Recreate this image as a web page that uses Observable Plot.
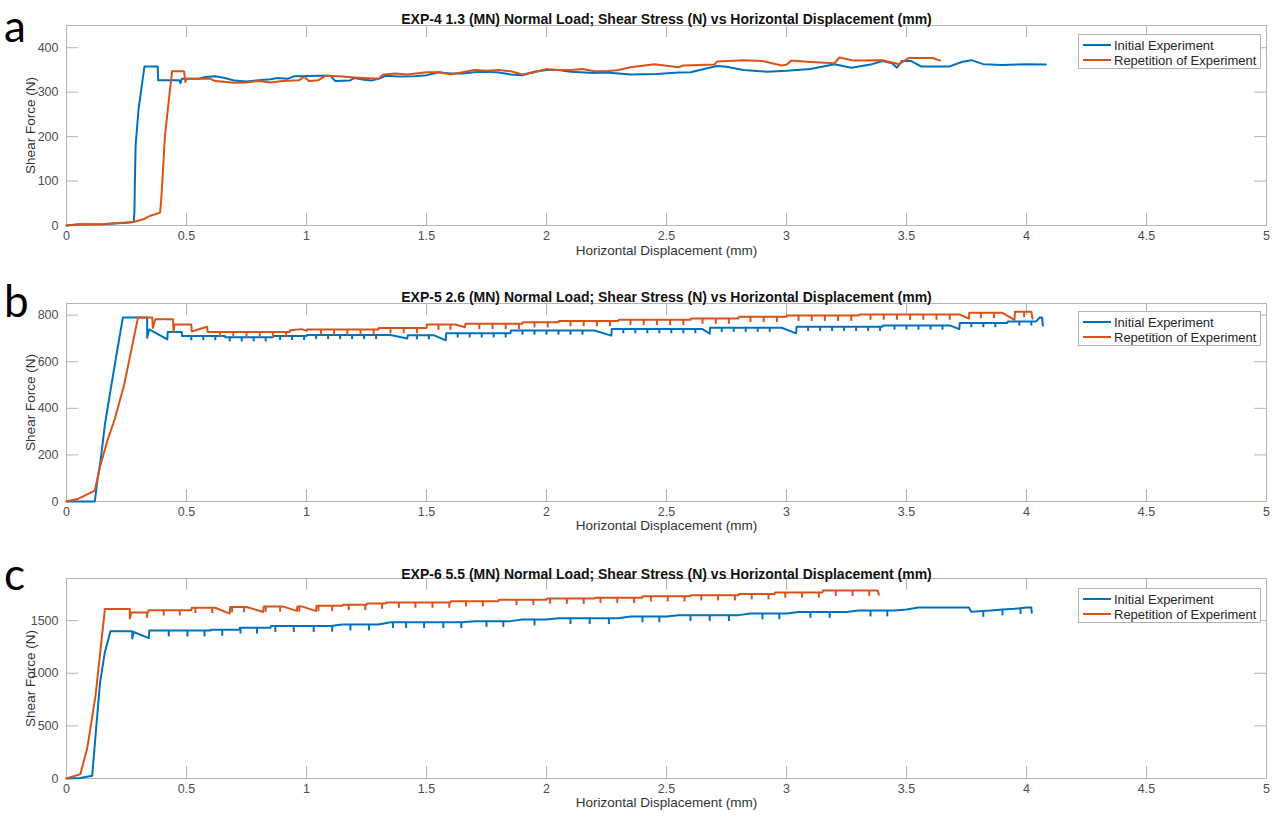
<!DOCTYPE html>
<html><head><meta charset="utf-8">
<script src="https://cdn.jsdelivr.net/npm/d3@7"></script>
<script src="https://cdn.jsdelivr.net/npm/@observablehq/plot@0.6"></script>
<style>
body{margin:0;background:#fff;}
#root{position:relative;width:1282px;height:818px;overflow:hidden;font-family:"Liberation Sans",Arial,sans-serif;}
.panel{position:absolute;left:0;}
.letter{position:absolute;left:4px;font-family:Lato,"Open Sans",sans-serif;font-size:44px;line-height:44px;color:#000;}
.legend{position:absolute;left:1078px;width:181px;height:33px;border:1px solid #b3b3b3;background:#fff;font-size:13px;color:#262626;}
.legend .row{position:absolute;left:4px;height:14px;display:flex;align-items:center;white-space:nowrap;}
.legend .sw{width:28px;height:2px;margin-right:3px;}
</style></head><body><div id="root"></div>
<script>
const seriesNames = ["Initial Experiment", "Repetition of Experiment"];
const colors = ["#0072BD", "#D95319"];
const xTicks = [0, 0.5, 1, 1.5, 2, 2.5, 3, 3.5, 4, 4.5, 5];
const xLabel = "Horizontal Displacement (mm)";
const yLabel = "Shear Force (N)";
const titles = [
  "EXP-4 1.3 (MN) Normal Load; Shear Stress (N) vs Horizontal Displacement (mm)",
  "EXP-5 2.6 (MN) Normal Load; Shear Stress (N) vs Horizontal Displacement (mm)",
  "EXP-6 5.5 (MN) Normal Load; Shear Stress (N) vs Horizontal Displacement (mm)"
];
const letters = ["a", "b", "c"];
const aYTicks = [0, 100, 200, 300, 400];
const bYTicks = [0, 200, 400, 600, 800];
const cYTicks = [0, 500, 1000, 1500];
const yMaxes = [450, 850, 1900];

// Panel a
const aBlue = [[0,0],[0.05,2],[0.15,3],[0.25,6],[0.28,8],[0.283,30],[0.285,100],[0.288,180],[0.3,260],[0.315,320],[0.325,358],[0.38,358],[0.382,327],[0.47,327],[0.475,320],[0.48,330],[0.55,330],[0.58,334],[0.62,336],[0.66,332],[0.7,326],[0.75,324],[0.8,327],[0.85,329],[0.88,332],[0.92,330],[0.95,336],[1.05,337],[1.1,337],[1.12,325],[1.18,326],[1.2,332],[1.24,328],[1.27,326],[1.3,330],[1.33,337],[1.38,335],[1.45,336],[1.5,338],[1.55,345],[1.6,342],[1.65,342],[1.7,345],[1.75,346],[1.8,344],[1.85,340],[1.9,338],[1.95,346],[2.0,350],[2.05,350],[2.1,346],[2.2,343],[2.25,344],[2.35,340],[2.46,341],[2.55,344],[2.6,345],[2.71,359],[2.75,357],[2.82,350],[2.92,346],[3.0,348],[3.1,352],[3.2,363],[3.27,355],[3.35,362],[3.4,370],[3.44,365],[3.46,355],[3.48,370],[3.52,370],[3.56,358],[3.68,358],[3.73,368],[3.77,372],[3.82,363],[3.9,361],[4.0,363],[4.08,362]];
const aOrange = [[0,0],[0.05,3],[0.15,3],[0.2,5],[0.28,8],[0.32,14],[0.35,22],[0.39,29],[0.395,60],[0.41,200],[0.43,300],[0.44,347],[0.49,347],[0.495,323],[0.5,330],[0.6,330],[0.62,325],[0.7,321],[0.75,322],[0.8,325],[0.85,322],[0.9,325],[0.97,327],[0.99,335],[1.01,325],[1.05,327],[1.08,337],[1.15,335],[1.2,333],[1.3,330],[1.32,340],[1.37,342],[1.42,340],[1.5,345],[1.55,345],[1.6,340],[1.65,345],[1.7,350],[1.75,348],[1.8,350],[1.85,347],[1.9,340],[1.95,345],[2.0,352],[2.05,350],[2.1,350],[2.15,352],[2.2,347],[2.25,347],[2.3,350],[2.35,356],[2.45,363],[2.55,356],[2.57,360],[2.7,362],[2.71,369],[2.82,372],[2.9,370],[2.98,360],[3.0,362],[3.02,371],[3.1,368],[3.2,365],[3.22,378],[3.28,371],[3.4,372],[3.47,363],[3.51,377],[3.61,377],[3.64,371]];
const aBlueTeeth = [];
const aOrangeTeeth = [];

// Panel b
const bBlue = [[0,0],[0.118,0],[0.13,100],[0.142,175],[0.16,330],[0.183,475],[0.21,640],[0.235,790],[0.336,790],[0.336,703],[0.345,739],[0.42,696],[0.422,728],[0.48,728],[0.482,710],[0.66,710],[0.662,705],[0.86,705],[0.862,711],[1.0,711],[1.002,715],[1.35,715],[1.42,700],[1.422,714],[1.53,714],[1.58,692],[1.582,722],[1.85,722],[1.852,734],[2.2,734],[2.27,712],[2.272,740],[2.65,740],[2.68,720],[2.682,746],[2.98,746],[3.04,722],[3.042,750],[3.4,750],[3.402,756],[3.68,756],[3.72,740],[3.722,766],[3.92,766],[3.922,773],[4.04,773],[4.055,790],[4.065,790],[4.068,755]];
const bBlueTeeth = [[0.52,710,690],[0.57,710,690],[0.62,710,690],[0.68,705,685],[0.73,705,685],[0.78,705,685],[0.83,705,685],[0.89,711,691],[0.94,711,691],[0.99,711,691],[1.04,715,695],[1.09,715,695],[1.14,715,695],[1.19,715,695],[1.24,715,695],[1.29,715,695],[1.46,714,694],[1.51,714,694],[1.63,722,702],[1.68,722,702],[1.73,722,702],[1.78,722,702],[1.83,722,702],[1.9,734,714],[1.95,734,714],[2.0,734,714],[2.05,734,714],[2.1,734,714],[2.15,734,714],[2.32,740,720],[2.37,740,720],[2.42,740,720],[2.47,740,720],[2.52,740,720],[2.57,740,720],[2.62,740,720],[2.73,746,726],[2.78,746,726],[2.83,746,726],[2.88,746,726],[2.93,746,726],[3.09,750,730],[3.14,750,730],[3.19,750,730],[3.24,750,730],[3.29,750,730],[3.34,750,730],[3.39,750,730],[3.45,756,736],[3.5,756,736],[3.55,756,736],[3.6,756,736],[3.65,756,736],[3.77,766,746],[3.82,766,746],[3.87,766,746],[3.97,773,753],[4.02,773,753]];
const bOrange = [[0,0],[0.05,12],[0.118,47],[0.14,150],[0.17,260],[0.2,350],[0.24,500],[0.27,650],[0.298,790],[0.357,790],[0.36,745],[0.37,782],[0.444,782],[0.446,728],[0.45,760],[0.52,760],[0.522,730],[0.586,750],[0.588,728],[0.93,728],[0.932,735],[0.98,740],[1.0,733],[1.002,738],[1.3,738],[1.302,745],[1.5,745],[1.502,760],[1.62,760],[1.66,748],[1.662,763],[1.9,763],[1.902,770],[2.05,770],[2.052,775],[2.3,775],[2.302,780],[2.6,780],[2.602,786],[2.8,786],[2.802,793],[3.0,793],[3.002,798],[3.3,798],[3.302,803],[3.72,803],[3.76,785],[3.762,810],[3.9,810],[3.95,780],[3.952,815],[4.02,815],[4.025,785]];
const bOrangeTeeth = [[0.64,728,703],[0.695,728,703],[0.75,728,703],[0.805,728,703],[0.86,728,703],[0.915,728,703],[1.06,738,713],[1.115,738,713],[1.17,738,713],[1.225,738,713],[1.28,738,713],[1.35,745,720],[1.405,745,720],[1.46,745,720],[1.55,760,735],[1.6,760,735],[1.72,763,738],[1.775,763,738],[1.83,763,738],[1.885,763,738],[1.95,770,745],[2.005,770,745],[2.1,775,750],[2.155,775,750],[2.21,775,750],[2.265,775,750],[2.35,780,755],[2.405,780,755],[2.46,780,755],[2.515,780,755],[2.57,780,755],[2.65,786,761],[2.705,786,761],[2.76,786,761],[2.85,793,768],[2.905,793,768],[2.96,793,768],[3.05,798,773],[3.105,798,773],[3.16,798,773],[3.215,798,773],[3.27,798,773],[3.35,803,778],[3.405,803,778],[3.46,803,778],[3.515,803,778],[3.57,803,778],[3.625,803,778],[3.68,803,778],[3.81,810,785],[3.865,810,785],[3.99,815,790]];

// Panel c
const cBlue = [[0,0],[0.058,5],[0.107,26],[0.128,597],[0.14,915],[0.16,1200],[0.183,1398],[0.274,1398],[0.274,1330],[0.28,1392],[0.343,1334],[0.345,1405],[0.6,1405],[0.602,1412],[0.72,1412],[0.722,1432],[0.85,1432],[0.852,1448],[1.1,1448],[1.15,1462],[1.3,1462],[1.35,1485],[1.65,1485],[1.7,1495],[1.85,1495],[1.9,1510],[2.0,1510],[2.05,1522],[2.3,1522],[2.35,1540],[2.5,1540],[2.55,1552],[2.8,1552],[2.85,1568],[3.0,1568],[3.05,1582],[3.25,1582],[3.3,1595],[3.45,1595],[3.5,1605],[3.55,1625],[3.76,1625],[3.77,1585],[3.85,1595],[3.9,1605],[3.95,1612],[4.0,1625],[4.02,1625],[4.022,1575]];
const cBlueTeeth = [[0.426,1405,1345],[0.504,1405,1345],[0.575,1405,1345],[0.649,1412,1352],[0.725,1432,1372],[0.794,1432,1372],[0.87,1448,1388],[0.947,1448,1388],[1.03,1448,1388],[1.107,1450,1390],[1.183,1462,1402],[1.26,1462,1402],[1.36,1485,1425],[1.415,1485,1425],[1.49,1485,1425],[1.57,1485,1425],[1.645,1485,1425],[1.75,1495,1435],[1.82,1495,1435],[1.95,1510,1450],[2.1,1522,1462],[2.18,1522,1462],[2.26,1522,1462],[2.4,1540,1480],[2.47,1540,1480],[2.6,1552,1492],[2.68,1552,1492],[2.76,1552,1492],[2.9,1568,1508],[2.97,1568,1508],[3.1,1582,1522],[3.18,1582,1522],[3.35,1595,1535],[3.42,1595,1535],[3.82,1591,1531],[3.9,1605,1545],[3.975,1618,1558]];
const cOrange = [[0,0],[0.058,42],[0.087,295],[0.121,788],[0.16,1610],[0.264,1610],[0.264,1519],[0.27,1576],[0.34,1576],[0.342,1598],[0.52,1598],[0.522,1622],[0.62,1622],[0.68,1567],[0.682,1630],[0.75,1630],[0.82,1582],[0.822,1635],[0.9,1635],[0.96,1592],[0.962,1635],[0.98,1635],[1.04,1590],[1.042,1640],[1.15,1640],[1.152,1650],[1.25,1650],[1.252,1662],[1.33,1662],[1.332,1672],[1.6,1672],[1.602,1685],[1.8,1685],[1.802,1698],[2.0,1698],[2.002,1710],[2.2,1710],[2.202,1718],[2.4,1718],[2.402,1732],[2.6,1732],[2.602,1742],[2.8,1742],[2.802,1752],[2.95,1752],[2.952,1768],[3.15,1768],[3.152,1785],[3.38,1785],[3.385,1745]];
const cOrangeTeeth = [[0.336,1576,1521],[0.405,1598,1543],[0.472,1598,1543],[0.537,1622,1567],[0.607,1622,1567],[0.69,1630,1575],[0.74,1630,1575],[0.83,1635,1580],[0.89,1635,1580],[0.97,1635,1580],[1.05,1640,1585],[1.107,1640,1585],[1.176,1650,1595],[1.245,1650,1595],[1.315,1662,1607],[1.385,1672,1617],[1.454,1672,1617],[1.525,1672,1617],[1.595,1672,1617],[1.665,1685,1630],[1.735,1685,1630],[1.875,1698,1643],[1.945,1698,1643],[2.015,1710,1655],[2.085,1710,1655],[2.155,1710,1655],[2.225,1718,1663],[2.295,1718,1663],[2.365,1718,1663],[2.435,1732,1677],[2.505,1732,1677],[2.575,1732,1677],[2.645,1742,1687],[2.715,1742,1687],[2.785,1742,1687],[2.855,1752,1697],[2.925,1752,1697],[2.995,1768,1713],[3.065,1768,1713],[3.135,1768,1713],[3.205,1785,1730],[3.275,1785,1730],[3.345,1785,1730]];

const panels = [
  {blue:aBlue, orange:aOrange, blueTeeth:aBlueTeeth, orangeTeeth:aOrangeTeeth, yMax:yMaxes[0], yTicks:aYTicks, title:titles[0], letter:letters[0],
   top:0, height:270, marginTop:25, marginBottom:45, titleDy:-11, xLabelDy:29, legendTop:34, letterTop:3},
  {blue:bBlue, orange:bOrange, blueTeeth:bBlueTeeth, orangeTeeth:bOrangeTeeth, yMax:yMaxes[1], yTicks:bYTicks, title:titles[1], letter:letters[1],
   top:275, height:270, marginTop:28, marginBottom:44, titleDy:-11, xLabelDy:28, legendTop:311, letterTop:278},
  {blue:cBlue, orange:cOrange, blueTeeth:cBlueTeeth, orangeTeeth:cOrangeTeeth, yMax:yMaxes[2], yTicks:cYTicks, title:titles[2], letter:letters[2],
   top:550, height:268, marginTop:28, marginBottom:40, titleDy:-9, xLabelDy:28, legendTop:588, letterTop:551}
];

const root = document.getElementById("root");
const W = 1282, ML = 66, MR = 16, TICK = 12, AX = "#b3b3b3";

for (const p of panels) {
  const innerH = p.height - p.marginTop - p.marginBottom;
  const innerW = W - ML - MR;
  const lineData = [
    ...p.blue.map(([x, y]) => ({x, y, s: seriesNames[0]})),
    ...p.orange.map(([x, y]) => ({x, y, s: seriesNames[1]}))
  ];
  const teeth = [
    ...p.blueTeeth.map(([x, y1, y2]) => ({x, y1, y2, s: seriesNames[0]})),
    ...p.orangeTeeth.map(([x, y1, y2]) => ({x, y1, y2, s: seriesNames[1]}))
  ];
  const svg = Plot.plot({
    width: W, height: p.height, marginLeft: ML, marginRight: MR, marginTop: p.marginTop, marginBottom: p.marginBottom,
    x: {domain: [0, 5], ticks: xTicks, tickSize: 0, tickPadding: 6, tickFormat: d => String(d), label: null},
    y: {domain: [0, p.yMax], ticks: p.yTicks, tickSize: 0, tickPadding: 8, tickFormat: d => String(d), label: null},
    color: {domain: seriesNames, range: colors},
    style: {fontFamily: '"Liberation Sans", Arial, sans-serif', fontSize: "12.5px", color: "#4d4d4d", background: "transparent", overflow: "visible"},
    marks: [
      Plot.ruleX(xTicks, {x: d => d, insetTop: innerH - TICK, stroke: AX}),
      Plot.ruleX(xTicks, {x: d => d, insetBottom: innerH - TICK, stroke: AX}),
      Plot.ruleY(p.yTicks, {y: d => d, insetRight: innerW - TICK, stroke: AX}),
      Plot.ruleY(p.yTicks, {y: d => d, insetLeft: innerW - TICK, stroke: AX}),
      Plot.frame({stroke: AX}),
      Plot.line(lineData, {x: "x", y: "y", z: "s", stroke: "s", strokeWidth: 2}),
      Plot.ruleX(teeth, {x: "x", y1: "y1", y2: "y2", stroke: "s", strokeWidth: 2}),
      Plot.text([xLabel], {frameAnchor: "bottom", dy: p.xLabelDy, fontSize: 13.5, fill: "#333"}),
      Plot.text([yLabel], {frameAnchor: "left", dx: -36, rotate: -90, textAnchor: "middle", fontSize: 13.5, fill: "#333"}),
      Plot.text([p.title], {frameAnchor: "top", dy: p.titleDy, fontWeight: "bold", fontSize: 14, fill: "#111"})
    ]
  });
  const div = document.createElement("div");
  div.className = "panel";
  div.style.top = p.top + "px";
  div.appendChild(svg);
  root.appendChild(div);

  const lg = document.createElement("div");
  lg.className = "legend";
  lg.style.top = p.legendTop + "px";
  seriesNames.forEach((name, i) => {
    const row = document.createElement("div");
    row.className = "row";
    row.style.top = (3 + i * 15) + "px";
    const sw = document.createElement("span");
    sw.className = "sw";
    sw.style.background = colors[i];
    const tx = document.createElement("span");
    tx.textContent = name;
    row.appendChild(sw); row.appendChild(tx);
    lg.appendChild(row);
  });
  root.appendChild(lg);

  const lt = document.createElement("div");
  lt.className = "letter";
  lt.style.top = p.letterTop + "px";
  lt.textContent = p.letter;
  root.appendChild(lt);
}
</script></body></html>
